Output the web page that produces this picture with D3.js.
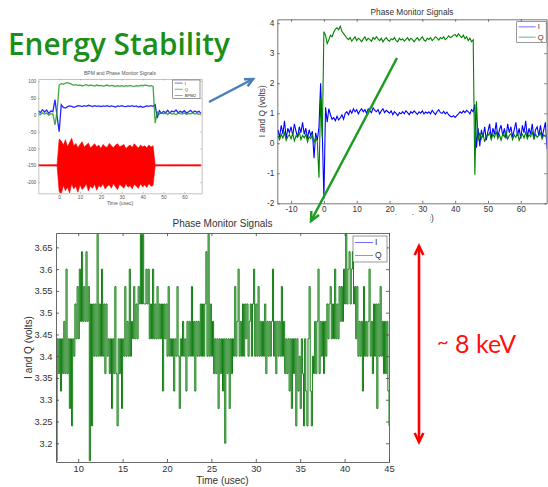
<!DOCTYPE html>
<html><head><meta charset="utf-8">
<script src="https://cdn.jsdelivr.net/npm/d3@7"></script>
<style>
body{margin:0;background:#fff}
svg{display:block}
</style>
</head><body>
<svg id="c" width="548" height="487"></svg>
<script>
// ---------------- DATA ----------------
// small overview chart (BPM and Phase Monitor Signals), samples every 1 usec from -10
const smallStart = -10, smallStep = 1;
const smallI = [12,6,15,8,14,4,11,9,45,-5,
  -50,30,22,20,24,26,25,22,24,27,
  26,24,27,25,28,26,24,27,25,26,
  24,26,25,27,24,26,25,23,26,25,
  27,25,24,26,25,27,24,26,23,25,
  22,24,26,25,27,25,
  30,-10,12,4,
  10,6,13,5,11,8,14,6,10,7,
  12,5,9,13,6,11,7,10,4];
const smallQ = [4,0,6,2,5,-1,3,2,-30,10,
  88,92,90,94,95,93,90,88,89,87,
  88,86,87,89,86,88,87,85,88,86,
  87,85,86,88,85,87,86,84,86,85,
  86,84,86,85,87,85,84,86,85,87,
  86,88,87,85,86,84,
  -25,8,2,6,
  3,5,1,6,2,4,0,5,3,2,
  5,1,4,3,6,2,4,1,3];
const smallBpmHi = [-148,-148,-148,-148,-148,-148,-148,-148,-148,-148,
  -72,-78,-90,-74,-95,-82,-70,-92,-85,-98,
  -88,-80,-96,-90,-84,-99,-92,-86,-95,-90,
  -100,-88,-94,-97,-85,-92,-98,-90,-86,-95,
  -92,-88,-100,-94,-90,-97,-86,-93,-99,-90,
  -95,-92,-98,-90,-96,-92,
  -148,-148,-148,-148,-148,-148,-148,-148,-148,-148,-148,
  -148,-148,-148,-148,-148,-148,-148,-148,-148,-148,-148,-148];
const smallBpmLo = [-152,-152,-152,-152,-152,-152,-152,-152,-152,-152,
  -228,-235,-210,-225,-215,-232,-205,-220,-212,-230,
  -208,-222,-215,-205,-226,-212,-218,-206,-224,-210,
  -215,-205,-220,-212,-208,-218,-204,-214,-222,-206,
  -212,-218,-205,-215,-210,-220,-206,-212,-218,-205,
  -214,-208,-216,-204,-212,-210,
  -152,-152,-152,-152,-152,-152,-152,-152,-152,-152,-152,
  -152,-152,-152,-152,-152,-152,-152,-152,-152,-152,-152,-152];
const smallXTicks = [0,10,20,30,40,50,60];
const smallYTicks = [-200,-150,-100,-50,0,50,100];
const smallSeries = ["I","Q","BPM2"];

// Phase Monitor Signals (full pulse), samples every 0.5 usec from -14
const phaseStart = -14, phaseStep = 0.5;
const phaseI = [0.45,0.20,0.60,0.30,0.75,0.15,0.50,0.35,
  0.55,0.25,0.65,0.40,0.20,0.55,0.35,0.70,
  0.30,0.50,0.15,0.45,0.25,0.40,-0.50,0.35,
  0.10,0.55,2.00,0.40,
  -1.85,1.20,0.70,1.15,0.95,0.80,0.85,0.75,
  0.90,0.78,0.85,0.95,0.80,1.00,1.05,0.95,
  1.10,1.00,1.15,1.05,1.12,0.98,1.08,1.15,
  1.05,1.12,1.00,1.15,1.08,1.02,1.18,1.10,
  1.05,1.12,0.98,1.08,1.15,1.02,1.10,1.05,
  1.00,1.08,0.95,1.05,1.00,0.92,1.02,0.98,
  1.05,0.98,1.08,1.02,0.95,1.05,1.00,1.08,
  1.02,0.96,1.05,1.00,1.08,0.98,1.04,1.00,
  1.05,0.98,1.10,1.02,0.96,1.06,1.12,1.02,
  1.00,1.06,0.98,1.04,0.95,0.90,0.88,0.92,
  0.86,0.92,0.98,1.05,1.00,1.08,1.02,1.10,
  1.05,0.98,1.12,1.05,
  1.30,-0.15,0.50,-0.10,0.45,0.20,0.55,0.10,
  0.40,0.65,0.15,0.50,0.30,0.70,0.20,0.45,
  0.60,0.25,0.50,0.15,0.65,0.35,0.55,0.20,
  0.45,0.70,0.25,0.50,0.15,0.60,0.35,0.75,
  0.20,0.50,0.30,0.65,0.15,0.45,0.55,0.25,
  0.60,0.20,0.45,0.70,-0.20];
const phaseQ = [0.25,0.12,0.30,0.18,0.35,0.10,0.22,0.28,
  0.15,0.32,0.08,0.25,0.20,0.38,0.12,0.26,
  0.18,0.30,0.05,0.22,0.15,0.28,0.02,0.20,
  0.05,-1.15,1.50,0.20,
  3.72,3.60,3.32,3.45,3.60,3.55,3.70,3.80,
  3.85,3.78,3.90,3.72,3.65,3.58,3.50,3.45,
  3.52,3.40,3.48,3.55,3.42,3.50,3.45,3.38,
  3.48,3.55,3.42,3.50,3.45,3.40,3.52,3.46,
  3.55,3.48,3.42,3.50,3.38,3.46,3.52,3.44,
  3.40,3.48,3.45,3.52,3.42,3.38,3.50,3.44,
  3.48,3.40,3.46,3.52,3.42,3.50,3.45,3.38,
  3.46,3.52,3.42,3.48,3.55,3.44,3.40,3.50,
  3.46,3.52,3.42,3.48,3.55,3.50,3.44,3.52,
  3.48,3.55,3.45,3.50,3.58,3.52,3.55,3.60,
  3.62,3.55,3.65,3.58,3.52,3.60,3.48,3.55,
  3.42,3.50,3.38,3.45,
  -1.05,1.40,0.10,0.35,0.15,0.30,0.05,0.25,
  0.25,0.35,0.12,0.30,0.20,0.40,0.15,0.28,
  0.10,0.30,0.22,0.38,0.14,0.26,0.32,0.12,
  0.28,0.20,0.35,0.10,0.25,0.30,0.18,0.36,
  0.15,0.28,0.22,0.40,0.12,0.30,0.20,0.26,
  0.34,0.14,0.28,0.22,0.30];
const phaseXTicks = [-10,0,10,20,30,40,50,60];
const phaseYTicks = [-2,-1,0,1,2,3,4];
const phaseSeries = ["I","Q"];

// Zoomed Q signal (flat top), samples every 0.125 usec from 7.5
const zoomStart = 7.5, zoomStep = 0.125;
const zoomQ = [
  3.16,3.44,3.36,3.44,3.32,3.44,3.36,3.48,
  3.36,3.60,3.36,3.44,3.28,3.44,3.24,3.44,
  3.40,3.52,3.44,3.56,3.44,3.60,3.48,3.64,
  3.48,3.56,3.48,3.64,3.48,3.56,3.16,3.52,
  3.24,3.52,3.40,3.52,3.40,3.68,3.40,3.52,
  3.40,3.60,3.40,3.52,3.36,3.52,3.40,3.44,
  3.36,3.44,3.28,3.44,3.36,3.56,3.36,3.24,
  3.44,3.36,3.44,3.28,3.44,3.40,3.56,3.40,
  3.48,3.40,3.60,3.40,3.48,3.44,3.56,3.44,
  3.52,3.44,3.56,3.52,3.68,3.52,3.68,3.52,
  3.52,3.60,3.52,3.60,3.44,3.52,3.44,3.60,
  3.44,3.52,3.44,3.56,3.44,3.52,3.44,3.52,
  3.32,3.52,3.44,3.52,3.40,3.56,3.40,3.44,
  3.40,3.44,3.32,3.44,3.40,3.56,3.40,3.28,
  3.44,3.40,3.48,3.40,3.44,3.32,3.48,3.40,
  3.48,3.40,3.56,3.40,3.48,3.32,3.48,3.40,
  3.48,3.40,3.52,3.40,3.52,3.40,3.52,3.64,
  3.40,3.68,3.40,3.52,3.40,3.48,3.36,3.44,
  3.36,3.44,3.28,3.44,3.36,3.44,3.32,3.44,
  3.20,3.44,3.36,3.44,3.28,3.44,3.36,3.44,
  3.40,3.56,3.40,3.48,3.60,3.40,3.48,3.40,
  3.52,3.40,3.52,3.44,3.52,3.40,3.48,3.52,
  3.40,3.52,3.60,3.40,3.52,3.40,3.56,3.40,
  3.48,3.40,3.48,3.40,3.52,3.36,3.48,3.40,
  3.48,3.40,3.48,3.60,3.40,3.48,3.36,3.48,
  3.40,3.48,3.40,3.56,3.40,3.48,3.36,3.44,
  3.36,3.44,3.32,3.44,3.28,3.44,3.36,3.44,
  3.24,3.44,3.32,3.40,3.28,3.44,3.36,3.24,
  3.44,3.32,3.24,3.44,3.56,3.32,3.24,3.40,
  3.36,3.48,3.36,3.48,3.60,3.36,3.48,3.40,
  3.48,3.36,3.48,3.40,3.52,3.44,3.52,3.56,
  3.44,3.52,3.44,3.60,3.44,3.52,3.44,3.56,
  3.48,3.56,3.48,3.60,3.52,3.68,3.52,3.60,
  3.64,3.52,3.60,3.64,3.52,3.56,3.44,3.56,
  3.40,3.48,3.40,3.48,3.32,3.56,3.40,3.48,
  3.40,3.48,3.60,3.40,3.48,3.36,3.52,3.40,
  3.52,3.28,3.52,3.40,3.56,3.40,3.48,3.36,
  3.48,3.36,3.48,3.32,3.24];
const zoomXTicks = [10,15,20,25,30,35,40,45];
const zoomYTicks = [3.2,3.25,3.3,3.35,3.4,3.45,3.5,3.55,3.6,3.65];
const zoomSeries = ["I","Q"];

const colI = "#0000ff", colQ = "#008000", colBpm = "#ff0000";

// ---------------- DRAWING ----------------
const svg = d3.select("#c");
const FONT = "'Liberation Sans', Arial, sans-serif";
const times = (start, step, arr) => arr.map((_, i) => start + i * step);

function panel(o) {
  const g = svg.append("g");
  if (o.bg) g.append("rect").attr("x", o.bg[0]).attr("y", o.bg[1])
    .attr("width", o.bg[2]).attr("height", o.bg[3]).attr("fill", "#fff");
  const x = d3.scaleLinear().domain(o.xd).range([o.L, o.R]);
  const y = d3.scaleLinear().domain(o.yd).range([o.B, o.T]);
  const id = "clip" + o.name;
  svg.append("clipPath").attr("id", id).append("rect")
    .attr("x", o.L).attr("y", o.T).attr("width", o.R - o.L).attr("height", o.B - o.T);
  const plot = g.append("g").attr("clip-path", `url(#${id})`);
  const axes = g.append("g");
  const fmt = o.fmt || (d => String(d));
  const ax = (a, tr, vals, lab) => {
    const s = axes.append("g").attr("transform", tr)
      .call(a.tickValues(vals).tickSize(-o.tl).tickSizeOuter(0).tickPadding(o.pad)
        .tickFormat(lab ? fmt : () => ""));
    s.select(".domain").attr("stroke", o.axc).attr("stroke-width", o.aw);
    s.selectAll(".tick line").attr("stroke", o.axc).attr("stroke-width", o.aw);
    s.selectAll("text").attr("font-size", o.fs).attr("fill", o.tc).attr("font-family", FONT);
  };
  ax(d3.axisBottom(x), `translate(0,${o.B})`, o.xt, true);
  ax(d3.axisTop(x), `translate(0,${o.T})`, o.xt, false);
  ax(d3.axisLeft(y), `translate(${o.L},0)`, o.yt, true);
  ax(d3.axisRight(y), `translate(${o.R},0)`, o.yt, false);
  const txt = (s, px, py, fs, rot) => {
    const t = g.append("text").text(s).attr("font-family", FONT).attr("font-size", fs)
      .attr("fill", o.tc).attr("text-anchor", "middle");
    if (rot) t.attr("transform", `translate(${px},${py}) rotate(-90)`);
    else t.attr("x", px).attr("y", py);
  };
  if (o.title) txt(o.title, (o.L + o.R) / 2, o.titleY, o.tfs);
  if (o.xlabel) txt(o.xlabel, o.xlabelX || (o.L + o.R) / 2, o.xlabelY, o.lfs);
  if (o.ylabel) txt(o.ylabel, o.ylabelX, (o.T + o.B) / 2, o.lfs, true);
  return { g, x, y, plot, axes };
}

function legend(p, box, names, cols, fs, lineLen) {
  const g = p.g.append("g");
  g.append("rect").attr("x", box[0]).attr("y", box[1]).attr("width", box[2]).attr("height", box[3])
    .attr("fill", "#fff").attr("stroke", "#555").attr("stroke-width", 0.6);
  const rowH = box[3] / names.length;
  names.forEach((n, i) => {
    const yy = box[1] + rowH * (i + 0.5);
    g.append("line").attr("x1", box[0] + 2).attr("x2", box[0] + 2 + lineLen)
      .attr("y1", yy).attr("y2", yy).attr("stroke", cols[i]).attr("stroke-width", 0.8).attr("opacity", 0.7);
    g.append("text").text(n).attr("x", box[0] + 4 + lineLen).attr("y", yy).attr("dy", "0.35em")
      .attr("font-size", fs).attr("font-family", FONT).attr("fill", "#333");
  });
}

function arrowHead(g, x1, y1, x2, y2, col, w, h) {
  const a = Math.atan2(y2 - y1, x2 - x1), s = 0.45;
  g.append("path")
    .attr("d", `M${x2 - h * Math.cos(a - s)},${y2 - h * Math.sin(a - s)}L${x2},${y2}L${x2 - h * Math.cos(a + s)},${y2 - h * Math.sin(a + s)}`)
    .attr("fill", "none").attr("stroke", col).attr("stroke-width", w).attr("stroke-linejoin", "miter");
}
function arrow(x1, y1, x2, y2, col, w, h, both) {
  const g = svg.append("g");
  g.append("line").attr("x1", x1).attr("y1", y1).attr("x2", x2).attr("y2", y2)
    .attr("stroke", col).attr("stroke-width", w);
  arrowHead(g, x1, y1, x2, y2, col, w, h);
  if (both) arrowHead(g, x2, y2, x1, y1, col, w, h);
}

// Title
svg.append("text").text("Energy Stability")
  .attr("x", 8).attr("y", 55).attr("font-family", "'Open Sans', 'Noto Sans', sans-serif")
  .attr("font-size", 30).attr("font-weight", 600).attr("fill", "#1a8f1a")
  .attr("textLength", 222).attr("lengthAdjust", "spacingAndGlyphs");

// ---- small overview chart ----
{
  const p = panel({ name: "s", L: 38.3, R: 201.7, T: 79, B: 193.3, xd: [-10, 68.3], yd: [-233, 106],
    xt: smallXTicks, yt: smallYTicks, tl: 1.5, pad: 2, fs: 4.8, axc: "#9a9a9a", aw: 0.6, tc: "#555",
    title: "BPM and Phase Monitor Signals", titleY: 75, tfs: 5,
    xlabel: "Time (usec)", xlabelY: 205, lfs: 5 });
  const t = times(smallStart, smallStep, smallI);
  const ln = arr => d3.line().x((d, i) => p.x(t[i])).y(d => p.y(d))(arr);
  p.plot.append("path").attr("d", ln(smallI)).attr("fill", "none").attr("stroke", colI).attr("stroke-width", 1.3).attr("opacity", 0.85);
  p.plot.append("path").attr("d", ln(smallQ)).attr("fill", "none").attr("stroke", "#1f9a1f").attr("stroke-width", 1.3).attr("opacity", 0.85);
  const area = d3.area().x((d, i) => p.x(t[i])).y0((d, i) => p.y(smallBpmLo[i])).y1(d => p.y(d));
  p.plot.append("path").attr("d", area(smallBpmHi)).attr("fill", colBpm).attr("stroke", colBpm).attr("stroke-width", 0.6);
  legend(p, [172.7, 80, 27.3, 18.5], smallSeries, [colI, colQ, colBpm], 4.2, 8);
}

// ---- Phase Monitor Signals (top right) ----
{
  const p = panel({ name: "p", L: 277.3, R: 546.7, T: 19.3, B: 203.3, xd: [-14.2, 67.9], yd: [-2, 4.13],
    xt: phaseXTicks, yt: phaseYTicks, tl: 2.5, pad: 3, fs: 8.3, axc: "#555", aw: 0.8, tc: "#333",
    title: "Phase Monitor Signals", titleY: 15, tfs: 8.3,
    xlabel: "Time (usec)", xlabelX: 412, xlabelY: 221, ylabel: "I and Q (volts)", ylabelX: 265, lfs: 8.3 });
  const t = times(phaseStart, phaseStep, phaseI);
  const ln = arr => d3.line().x((d, i) => p.x(t[i])).y(d => p.y(d))(arr);
  p.plot.append("path").attr("d", ln(phaseI)).attr("fill", "none").attr("stroke", colI).attr("stroke-width", 1.1);
  p.plot.append("path").attr("d", ln(phaseQ)).attr("fill", "none").attr("stroke", colQ).attr("stroke-width", 1.1);
  legend(p, [516.7, 21.7, 29.5, 20.6], phaseSeries, [colI, colQ], 7.5, 17);
}

// ---- Zoomed chart (bottom) ----
{
  const p = panel({ name: "z", bg: [0, 215, 430, 272], L: 56, R: 389, T: 233, B: 462, xd: [7.5, 45], yd: [3.157, 3.683],
    xt: zoomXTicks, yt: zoomYTicks, tl: 3, pad: 3.5, fs: 9.3, axc: "#444", aw: 0.8, tc: "#333",
    fmt: d => String(+d.toFixed(2)),
    title: "Phase Monitor Signals", titleY: 226.5, tfs: 10,
    xlabel: "Time (usec)", xlabelY: 483.5, ylabel: "I and Q (volts)", ylabelX: 31.5, lfs: 10 });
  const t = times(zoomStart, zoomStep, zoomQ);
  const ln = d3.line().curve(d3.curveStepAfter).x((d, i) => p.x(t[i])).y(d => p.y(d));
  p.plot.append("path").attr("d", ln(zoomQ)).attr("fill", "none").attr("stroke", "#117d11").attr("stroke-width", 1);
  legend(p, [353, 236, 34, 26], zoomSeries, [colI, colQ], 8.5, 18);
}

// ---- annotations ----
arrow(209, 102, 253, 79, "#4a7ebb", 2.5, 9, false);
arrow(397, 58, 311, 221, "#1f9a22", 2.5, 10, false);
arrow(419, 442, 419, 246, "#ff0000", 2.6, 10, true);
const kev = svg.append("text").attr("x", 437).attr("y", 353)
  .attr("font-family", "Lato, 'Open Sans', sans-serif").attr("fill", "#ff1010");
kev.append("tspan").text("~").attr("font-size", 20).attr("dy", -4);
kev.append("tspan").text(" 8 keV").attr("font-size", 25).attr("dy", 4);
</script>
</body></html>
